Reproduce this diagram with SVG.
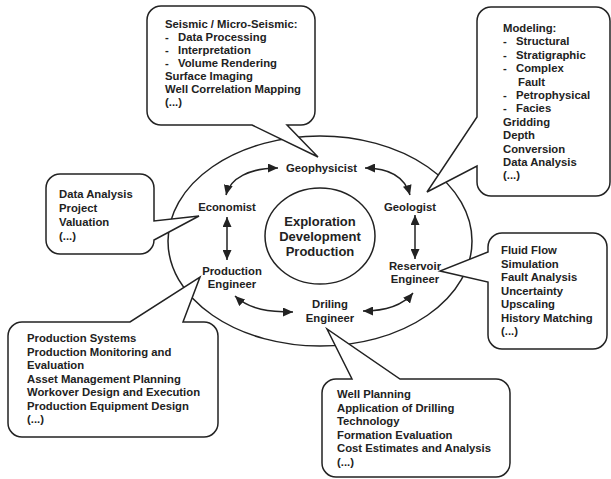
<svg xmlns="http://www.w3.org/2000/svg" width="611" height="479" viewBox="0 0 611 479">
<style>
text{font-family:"Liberation Sans",Arial,sans-serif;font-weight:bold;fill:#222;font-size:11.3px}
.c{text-anchor:middle}
.big{font-size:13px}
.bub{fill:#fff;stroke:#222;stroke-width:1.5;stroke-linejoin:miter}
.ring{fill:#fff;stroke:#222;stroke-width:1.5}
.con{fill:none;stroke:#222;stroke-width:1.5;marker-start:url(#ah);marker-end:url(#ah)}
</style>
<defs>
<marker id="ah" markerUnits="userSpaceOnUse" markerWidth="10" markerHeight="9" refX="10" refY="4.5" orient="auto-start-reverse">
<path d="M0,0 L10,4.5 L0,9 z" fill="#222"/>
</marker>
</defs>
<rect width="611" height="479" fill="#fff"/>
<g id="outer"><ellipse cx="320" cy="241" rx="152" ry="105" class="ring"/></g>
<g id="bubble-seismic">
<path class="bub" d="M161,6 H301 A14,14 0 0 1 315,20 V111 A14,14 0 0 1 301,125 H287 L318,157 L252,125 H161 A14,14 0 0 1 147,111 V20 A14,14 0 0 1 161,6 Z"/>
<text x="165" y="28">Seismic / Micro-Seismic:</text>
<text x="165" y="41">-</text><text x="178" y="41">Data Processing</text>
<text x="165" y="54">-</text><text x="178" y="54">Interpretation</text>
<text x="165" y="67">-</text><text x="178" y="67">Volume Rendering</text>
<text x="165" y="80">Surface Imaging</text>
<text x="165" y="93">Well Correlation Mapping</text>
<text x="165" y="106">(...)</text>
</g>
<g id="bubble-modeling">
<path class="bub" d="M491,7 H596 A14,14 0 0 1 610,21 V182 A14,14 0 0 1 596,196 H491 A14,14 0 0 1 477,182 V166 L427,192 L477,117 V21 A14,14 0 0 1 491,7 Z"/>
<text x="503" y="32">Modeling:</text>
<text x="503" y="45.4">-</text><text x="516" y="45.4">Structural</text>
<text x="503" y="58.8">-</text><text x="516" y="58.8">Stratigraphic</text>
<text x="503" y="72.2">-</text><text x="516" y="72.2">Complex</text>
<text x="518" y="85.6">Fault</text>
<text x="503" y="99">-</text><text x="516" y="99">Petrophysical</text>
<text x="503" y="112.4">-</text><text x="516" y="112.4">Facies</text>
<text x="503" y="125.8">Gridding</text>
<text x="503" y="139.2">Depth</text>
<text x="503" y="152.6">Conversion</text>
<text x="503" y="166">Data Analysis</text>
<text x="503" y="179.4">(...)</text>
</g>
<g id="bubble-economics">
<path class="bub" d="M60,174 H140 A14,14 0 0 1 154,188 V221 L199,216 L154,240 A14,14 0 0 1 140,254 H60 A14,14 0 0 1 46,240 V188 A14,14 0 0 1 60,174 Z"/>
<text x="59" y="198">Data Analysis</text>
<text x="59" y="212">Project</text>
<text x="59" y="226">Valuation</text>
<text x="59" y="240">(...)</text>
</g>
<g id="bubble-reservoir">
<path class="bub" d="M502,233 H593 A14,14 0 0 1 607,247 V335 A14,14 0 0 1 593,349 H502 A14,14 0 0 1 488,335 V282 L440,271 L488,252 V247 A14,14 0 0 1 502,233 Z"/>
<text x="501" y="254">Fluid Flow</text>
<text x="501" y="267.5">Simulation</text>
<text x="501" y="281">Fault Analysis</text>
<text x="501" y="294.5">Uncertainty</text>
<text x="501" y="308">Upscaling</text>
<text x="501" y="321.5">History Matching</text>
<text x="501" y="335">(...)</text>
</g>
<g id="bubble-production">
<path class="bub" d="M22,322 H130 L200,277 L183,322 H204 A14,14 0 0 1 218,336 V423 A14,14 0 0 1 204,437 H22 A14,14 0 0 1 8,423 V336 A14,14 0 0 1 22,322 Z"/>
<text x="27" y="342">Production Systems</text>
<text x="27" y="355.5">Production Monitoring and</text>
<text x="27" y="369">Evaluation</text>
<text x="27" y="382.5">Asset Management Planning</text>
<text x="27" y="396">Workover Design and Execution</text>
<text x="27" y="409.5">Production Equipment Design</text>
<text x="27" y="423">(...)</text>
</g>
<g id="bubble-drilling">
<path class="bub" d="M336,379 H352 L327,329 L400,379 H496 A14,14 0 0 1 510,393 V463 A14,14 0 0 1 496,477 H336 A14,14 0 0 1 322,463 V393 A14,14 0 0 1 336,379 Z"/>
<text x="337" y="398">Well Planning</text>
<text x="337" y="411.6">Application of Drilling</text>
<text x="337" y="425.2">Technology</text>
<text x="337" y="438.8">Formation Evaluation</text>
<text x="337" y="452.4">Cost Estimates and Analysis</text>
<text x="337" y="466">(...)</text>
</g>
<g id="core">
<ellipse cx="320" cy="236" rx="55" ry="48" class="ring"/>
<text class="c big" x="320" y="226">Exploration</text>
<text class="c big" x="320" y="241">Development</text>
<text class="c big" x="320" y="256">Production</text>
</g>
<g id="geophysicist"><text class="c" x="321.5" y="172">Geophysicist</text></g>
<g id="economist"><text class="c" x="227" y="211">Economist</text></g>
<g id="geologist"><text class="c" x="410" y="211">Geologist</text></g>
<g id="production-engineer"><text class="c" x="232" y="275">Production</text><text class="c" x="232" y="288">Engineer</text></g>
<g id="reservoir-engineer"><text class="c" x="415" y="270">Reservoir</text><text class="c" x="415" y="283">Engineer</text></g>
<g id="drilling-engineer"><text class="c" x="330" y="308">Driling</text><text class="c" x="330" y="322">Engineer</text></g>
<g id="connectors">
<path class="con" d="M226,195 C230,178 250,168 278,168"/>
<path class="con" d="M365,168 C390,168 405,178 410,195"/>
<path class="con" d="M227,217 L227,260"/>
<path class="con" d="M415,215 L415,259"/>
<path class="con" d="M235,296 C250,310 270,312 293,312"/>
<path class="con" d="M363,311 C385,311 403,305 413,293"/>
</g>
</svg>
